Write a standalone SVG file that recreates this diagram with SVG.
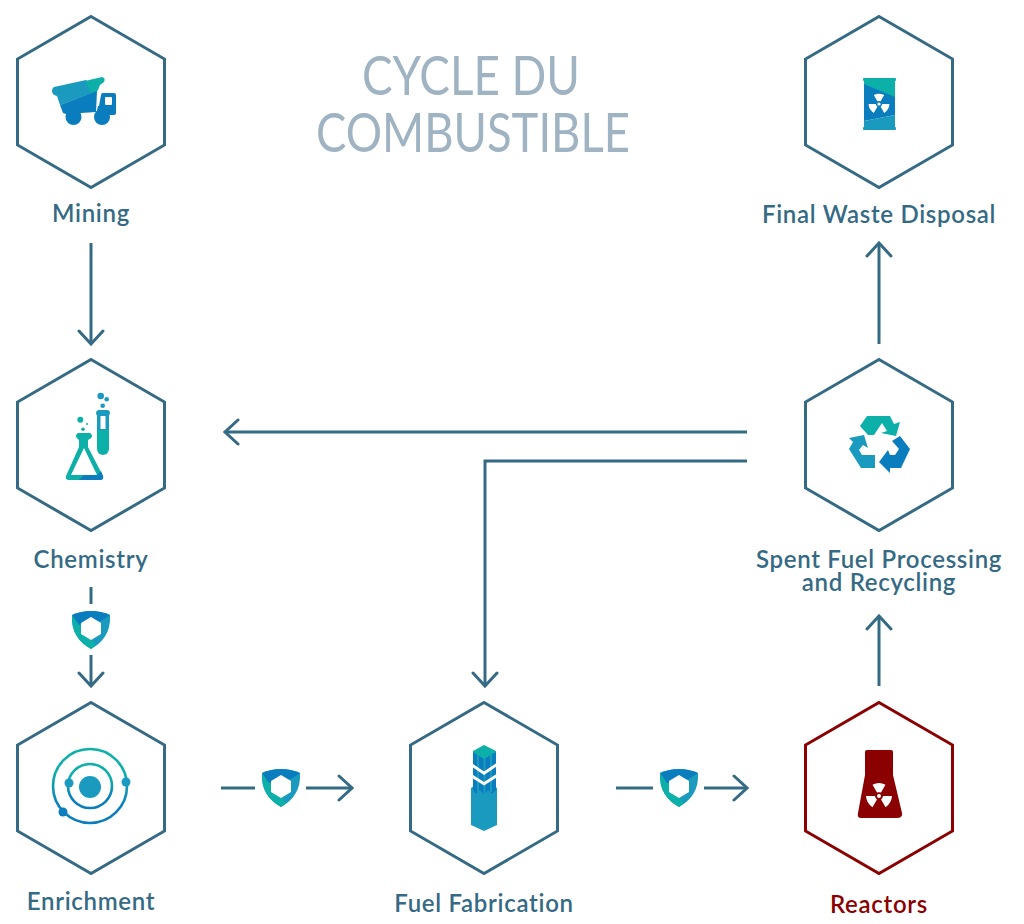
<svg xmlns="http://www.w3.org/2000/svg" width="1024" height="924" viewBox="0 0 1024 924">
<style>
text{font-family:"Lato","Open Sans",sans-serif;text-anchor:middle;fill:#356a85;font-size:24px;font-weight:600;letter-spacing:0.700px}
text.title{fill:#9fb3c3;font-size:54px;font-weight:400;letter-spacing:0}
text.red{fill:#8b0000}
.hex{fill:#fff;stroke:#356a85;stroke-width:3}
.hexred{fill:#fff;stroke:#8b0000;stroke-width:3}
.conn{fill:none;stroke:#356a85;stroke-width:3}
.teal{fill:#0db0a8}.mid{fill:#1a9abf}.blue{fill:#0a7dbf}
</style>
<defs>
<polygon id="h" points="0,-85.500 73.500,-43 73.500,43 0,85.500 -73.500,43 -73.500,-43"/>
<linearGradient id="orbit" x1="0" y1="0" x2="0" y2="1"><stop offset="0.300" stop-color="#0db0a8"/><stop offset="0.800" stop-color="#0a7dbf"/></linearGradient>
<marker id="a" viewBox="0 0 20 28" refX="18" refY="14" markerWidth="20" markerHeight="28" markerUnits="userSpaceOnUse" orient="auto"><path d="M5,2 L18,14 L5,26" fill="none" stroke="#356a85" stroke-width="3" stroke-linecap="round"/></marker>
<g id="shield">
<path class="mid" d="M-19,-15 Q0,-23 19,-15 C20,2 12,12 0,19 C-12,12 -20,2 -19,-15 Z"/>
<path class="teal" d="M-19,-15 C-20,2 -12,12 0,19 L5,15 L-3,5 L-12,-8 Z"/>
<path class="blue" d="M-19,-15 Q0,-23 19,-15 L10,-9 L-12,-5 Z"/>
<polygon fill="#fff" points="0,-13 10,-7 10,4 0,10 -10,4 -10,-7"/>
</g>
<g id="rad" fill="#fff">
<circle r="2"/>
<path id="blade" d="M-6.500,-11.300 Q0,-14.500 6.500,-11.300 L2,-3.500 Q0,-4.200 -2,-3.500 Z"/>
<use href="#blade" transform="rotate(120)"/>
<use href="#blade" transform="rotate(240)"/>
</g>
</defs>
<g id="connectors">
<line class="conn" x1="91" y1="243" x2="91" y2="344" marker-end="url(#a)"/>
<line class="conn" x1="91" y1="587" x2="91" y2="604"/>
<line class="conn" x1="91" y1="655" x2="91" y2="686" marker-end="url(#a)"/>
<line class="conn" x1="221" y1="788" x2="255" y2="788"/>
<line class="conn" x1="306" y1="788" x2="352" y2="788" marker-end="url(#a)"/>
<line class="conn" x1="616" y1="788" x2="653" y2="788"/>
<line class="conn" x1="704" y1="788" x2="747" y2="788" marker-end="url(#a)"/>
<line class="conn" x1="879" y1="686" x2="879" y2="616" marker-end="url(#a)"/>
<line class="conn" x1="879" y1="344" x2="879" y2="243" marker-end="url(#a)"/>
<line class="conn" x1="747" y1="432" x2="225" y2="432" marker-end="url(#a)"/>
<polyline class="conn" points="747,461 485,461 485,686" marker-end="url(#a)"/>
<use href="#shield" x="91" y="630"/>
<use href="#shield" x="281" y="788"/>
<use href="#shield" x="679" y="788"/>
</g>
<text class="title" x="471" y="95" textLength="218" lengthAdjust="spacingAndGlyphs">CYCLE DU</text>
<text class="title" x="473" y="152" textLength="314" lengthAdjust="spacingAndGlyphs">COMBUSTIBLE</text>
<g id="mining">
<use class="hex" href="#h" x="91" y="102"/>
<path class="mid" d="M54,87 L86,80 L98,91 L60,105 L57,96 Q52,95 52,91 Q52,88 54,87 Z"/>
<path class="teal" d="M85,81 L102,77 Q106,78 104,82 L100,85 L98,90 L92,94 Z"/>
<path class="blue" d="M60,105 L97,91 L96,112 L66,114 L63,113 Z"/>
<path class="blue" d="M101,95 Q101,93 103,93 L114,93 Q116,93 116,95 L116,113 Q116,115 113,115 L96,115 L98,106 L99,106 Z"/>
<circle class="blue" cx="73.500" cy="117" r="8"/><circle class="blue" cx="102" cy="117" r="8"/>
<rect x="105" y="97" width="7" height="8" rx="1" fill="#fff"/>
<text x="91" y="222">Mining</text>
</g>
<g id="chemistry">
<use class="hex" href="#h" x="91" y="445"/>
<path class="teal" fill-rule="evenodd" d="M78,433 L90,433 Q92,434 92,436 Q92,438 88,440 L88,447 L103,476 Q104,480 100,480 L69,480 Q65,480 66,476 L79,447 L79,440 Q76,438 76,436 Q76,434 78,433 Z M84,448 L71,475 L97,475 Z"/>
<path class="blue" d="M79,480 L100,480 Q104,480 103,476 L101,471 L97,475 L84,475 Z"/>
<path class="teal" d="M97,429 L109,429 L109,449 A6,6 0 0 1 97,449 Z"/>
<path class="mid" d="M98,410 L108,410 Q110,411 110,413 Q110,415 109,415 L109,430 L97,430 L97,415 Q96,415 96,413 Q96,411 98,410 Z"/>
<rect x="100.500" y="416" width="5" height="13" fill="#fff"/>
<circle class="mid" cx="100.700" cy="396" r="3.300"/><circle class="mid" cx="106.700" cy="399.300" r="2.300"/><circle class="mid" cx="102.700" cy="405.700" r="2.300"/>
<circle class="teal" cx="80.300" cy="419.700" r="3"/><circle class="teal" cx="83" cy="429.300" r="1.800"/><circle class="teal" cx="87" cy="424" r="1"/>
<text x="91" y="568">Chemistry</text>
</g>
<g id="enrichment">
<use class="hex" href="#h" x="91" y="788"/>
<circle cx="90" cy="786" r="37" fill="none" stroke="url(#orbit)" stroke-width="2.600"/>
<circle cx="90" cy="786" r="22" fill="none" stroke="url(#orbit)" stroke-width="2.600"/>
<circle class="mid" cx="90" cy="787" r="11"/>
<circle class="mid" cx="126" cy="782" r="4.500"/><circle class="mid" cx="69" cy="783" r="4.500"/><circle class="blue" cx="63" cy="812" r="4.500"/>
<text x="91" y="910">Enrichment</text>
</g>
<g id="fuel-fabrication">
<use class="hex" href="#h" x="484" y="788"/>
<polygon class="mid" points="471,788 474,786 494,786 497,788 497,825 484,831 471,825"/>
<polygon class="blue" points="473,751 484,757 496,751 496,790 492,794 488,790 484,795 480,790 476,794 473,790"/>
<g class="mid"><rect x="477" y="754" width="2" height="38"/><rect x="483.500" y="757" width="2" height="38"/><rect x="490" y="754" width="2" height="38"/></g>
<polygon class="teal" points="484,745 473,751 473,752 484,759 496,752 496,751"/>
<polygon fill="#fff" points="471.500,763 484,771.500 496.500,763 496.500,766.500 484,775 471.500,766.500"/>
<polygon fill="#fff" points="471.500,774 484,782 496.500,774 496.500,777.500 484,785.500 471.500,777.500"/>
<text x="484" y="912">Fuel Fabrication</text>
</g>
<g id="reactors">
<use class="hexred" href="#h" x="879" y="788"/>
<path fill="#8b0000" d="M867,750 L891,750 Q893,750 893,752 L893,775 L902,813 Q903,818 897,818 L861,818 Q857,818 858,813 L865,775 L865,752 Q865,750 867,750 Z"/>
<use href="#rad" x="879" y="796"/>
<text class="red" x="879" y="913">Reactors</text>
</g>
<g id="spent-fuel">
<use class="hex" href="#h" x="879" y="445"/>
<polygon class="teal" points="860,426 867,416 890,416 894,424 900,422 896,436 881,433 887,431 882,423 874,435 868,435"/>
<polygon class="mid" points="849,438 864,435 868,448 863,445 859,450 862,455 875,455 875,468 861,468 849,449 853,442"/>
<polygon class="blue" points="900,436 910,449 901,468 890,468 890,473 879,462 888,450 890,455 895,455 899,449 892,441"/>
<text x="879" y="568">Spent Fuel Processing</text>
<text x="879" y="591">and Recycling</text>
</g>
<g id="final-waste">
<use class="hex" href="#h" x="879" y="102"/>
<rect class="teal" x="863" y="78" width="33" height="3" rx="1"/>
<rect class="teal" x="864" y="80" width="31" height="20"/>
<polygon class="blue" points="864,84 895,97 895,115 864,121"/>
<polygon class="mid" points="864,121 895,115 895,128 864,128"/>
<rect class="mid" x="863" y="127" width="33" height="3" rx="1"/>
<use href="#rad" transform="translate(879,104) scale(0.8)"/>
<text x="879" y="223">Final Waste Disposal</text>
</g>
</svg>
